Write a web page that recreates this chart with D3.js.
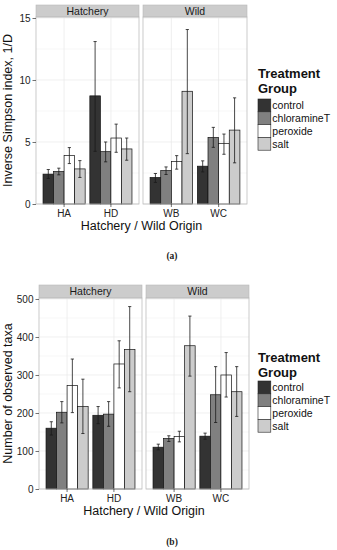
<!DOCTYPE html>
<html>
<head>
<meta charset="utf-8">
<script src="https://cdn.jsdelivr.net/npm/d3@7"></script>
<style>
  body { margin: 0; background: #fff; }
  svg { display: block; font-family: "Liberation Sans", Arial, sans-serif; }
</style>
</head>
<body>
<div id="chart"></div>
<script>
// facets and categories
const facets = ["Hatchery", "Wild"];
const facetOrigins = [["HA", "HD"], ["WB", "WC"]];
const treatments = ["control", "chloramineT", "peroxide", "salt"];

// (a) inverse Simpson index, per origin, per treatment
const simpsonMean = {
  HA: [2.41, 2.62, 3.90, 2.83],
  HD: [8.72, 4.22, 5.32, 4.44],
  WB: [2.14, 2.70, 3.42, 9.09],
  WC: [3.05, 5.37, 4.87, 5.96]
};
const simpsonLow = {
  HA: [2.06, 2.35, 3.26, 2.14],
  HD: [4.25, 3.40, 4.17, 3.53],
  WB: [1.74, 2.38, 2.81, 4.06],
  WC: [2.59, 4.57, 4.01, 3.32]
};
const simpsonHigh = {
  HA: [2.78, 2.89, 4.55, 3.50],
  HD: [13.1, 5.00, 6.44, 5.32],
  WB: [2.46, 2.99, 3.90, 14.07],
  WC: [3.48, 6.18, 5.64, 8.56]
};
const simpsonTicks = [0, 5, 10, 15];

// (b) number of observed taxa
const taxaMean = {
  HA: [160, 202, 272, 217],
  HD: [194, 197, 329, 367],
  WB: [110, 133, 138, 377],
  WC: [139, 248, 300, 256]
};
const taxaLow = {
  HA: [142, 174, 201, 146],
  HD: [172, 165, 266, 256],
  WB: [103, 125, 124, 297],
  WC: [131, 175, 242, 191]
};
const taxaHigh = {
  HA: [177, 230, 342, 289],
  HD: [217, 230, 390, 480],
  WB: [118, 140, 152, 455],
  WC: [147, 322, 359, 322]
};
const taxaTicks = [0, 100, 200, 300, 400, 500];

const fills = ["#333333", "#808080", "#ffffff", "#cccccc"];

const svg = d3.select("#chart").append("svg")
  .attr("width", 337)
  .attr("height", 550);

drawChart(svg, {
  mean: simpsonMean, low: simpsonLow, high: simpsonHigh,
  ticks: simpsonTicks, yMax: 15.08,
  yTitle: "Inverse Simpson index, 1/D",
  panels: [[36, 139], [143, 247]],
  top: 17, bottom: 204, stripTop: 5,
  legendX: 258, legendY: 78, keyY: 99,
  caption: "(a)", captionY: 259
});

drawChart(svg, {
  mean: taxaMean, low: taxaLow, high: taxaHigh,
  ticks: taxaTicks, yMax: 502.6,
  yTitle: "Number of observed taxa",
  panels: [[39, 142], [146, 249]],
  top: 298, bottom: 489, stripTop: 285,
  legendX: 258, legendY: 362, keyY: 381,
  caption: "(b)", captionY: 545
});

function drawChart(svg, c) {
  const g = svg.append("g");
  const y = d3.scaleLinear().domain([0, c.yMax]).range([c.bottom, c.top]);
  const minor = c.ticks.slice(1).map((t, i) => (t + c.ticks[i]) / 2);

  facets.forEach((facet, fi) => {
    const [x0, x1] = c.panels[fi];
    const x = d3.scalePoint().domain(facetOrigins[fi]).range([x0, x1]).padding(0.6);
    const step = x.step();
    const dodge = d3.scaleBand().domain(treatments)
      .range([-0.45 * step, 0.45 * step]);

    // strip
    g.append("rect")
      .attr("x", x0).attr("y", c.stripTop)
      .attr("width", x1 - x0).attr("height", c.top - c.stripTop)
      .attr("fill", "#cccccc").attr("stroke", "#b8b8b8").attr("stroke-width", 0.6);
    g.append("text")
      .attr("x", (x0 + x1) / 2).attr("y", (c.stripTop + c.top) / 2 + 3.8)
      .attr("text-anchor", "middle").attr("font-size", 10.5).attr("fill", "#1a1a1a")
      .text(facet);

    // grid
    g.append("g").selectAll("line.minor").data(minor).join("line")
      .attr("x1", x0).attr("x2", x1)
      .attr("y1", d => y(d)).attr("y2", d => y(d))
      .attr("stroke", "#f4f4f4").attr("stroke-width", 0.6);
    g.append("g").selectAll("line.major").data(c.ticks).join("line")
      .attr("x1", x0).attr("x2", x1)
      .attr("y1", d => y(d)).attr("y2", d => y(d))
      .attr("stroke", "#e8e8e8").attr("stroke-width", 0.7);
    g.append("g").selectAll("line.vgrid").data(facetOrigins[fi]).join("line")
      .attr("x1", d => x(d)).attr("x2", d => x(d))
      .attr("y1", c.top).attr("y2", c.bottom)
      .attr("stroke", "#e8e8e8").attr("stroke-width", 0.7);

    // bars + error bars
    facetOrigins[fi].forEach(o => {
      const rows = treatments.map((t, i) => ({
        t, i, m: c.mean[o][i], lo: c.low[o][i], hi: c.high[o][i]
      }));
      const grp = g.append("g").attr("transform", `translate(${x(o)},0)`);
      grp.selectAll("rect").data(rows).join("rect")
        .attr("x", d => dodge(d.t))
        .attr("y", d => y(d.m))
        .attr("width", dodge.bandwidth())
        .attr("height", d => y(0) - y(d.m))
        .attr("fill", d => fills[d.i])
        .attr("stroke", "#111").attr("stroke-width", 0.7);
      const eb = grp.selectAll("g.eb").data(rows).join("g")
        .attr("transform", d => `translate(${dodge(d.t) + dodge.bandwidth() / 2},0)`);
      eb.append("line")
        .attr("y1", d => y(d.lo)).attr("y2", d => y(d.hi))
        .attr("stroke", "#1a1a1a").attr("stroke-width", 0.8);
      [d => y(d.lo), d => y(d.hi)].forEach(fy => {
        eb.append("line")
          .attr("x1", -1.6).attr("x2", 1.6)
          .attr("y1", fy).attr("y2", fy)
          .attr("stroke", "#1a1a1a").attr("stroke-width", 0.8);
      });
    });

    // panel border
    g.append("rect")
      .attr("x", x0).attr("y", c.top)
      .attr("width", x1 - x0).attr("height", c.bottom - c.top)
      .attr("fill", "none").attr("stroke", "#bdbdbd").attr("stroke-width", 0.8);

    // x ticks
    const xa = g.append("g");
    facetOrigins[fi].forEach(o => {
      xa.append("line")
        .attr("x1", x(o)).attr("x2", x(o))
        .attr("y1", c.bottom).attr("y2", c.bottom + 3)
        .attr("stroke", "#333").attr("stroke-width", 0.7);
      xa.append("text")
        .attr("x", x(o)).attr("y", c.bottom + 12.5)
        .attr("text-anchor", "middle").attr("font-size", 10).attr("fill", "#222")
        .text(o);
    });
  });

  // y axis
  const left = c.panels[0][0];
  g.append("g")
    .attr("transform", `translate(${left},0)`)
    .call(d3.axisLeft(y).tickValues(c.ticks).tickSize(3.5).tickPadding(2))
    .call(a => a.select(".domain").remove())
    .call(a => a.selectAll("line").attr("stroke", "#333").attr("stroke-width", 0.7))
    .call(a => a.selectAll("text").attr("font-size", 10).attr("fill", "#222")
      .attr("font-family", "Liberation Sans, Arial, sans-serif"));

  // titles
  const midX = (c.panels[0][0] + c.panels[1][1]) / 2;
  g.append("text")
    .attr("x", midX).attr("y", c.bottom + 25.5)
    .attr("text-anchor", "middle").attr("font-size", 12.5).attr("fill", "#111")
    .text("Hatchery / Wild Origin");
  g.append("text")
    .attr("transform", `translate(12,${(c.top + c.bottom) / 2}) rotate(-90)`)
    .attr("text-anchor", "middle").attr("font-size", 12.5).attr("fill", "#111")
    .text(c.yTitle);

  // legend
  const lg = g.append("g");
  lg.append("text").attr("x", c.legendX).attr("y", c.legendY)
    .attr("font-size", 13).attr("font-weight", "bold").attr("fill", "#111")
    .text("Treatment");
  lg.append("text").attr("x", c.legendX).attr("y", c.legendY + 14.5)
    .attr("font-size", 13).attr("font-weight", "bold").attr("fill", "#111")
    .text("Group");
  const key = 12.8;
  treatments.forEach((t, i) => {
    lg.append("rect")
      .attr("x", c.legendX).attr("y", c.keyY + i * key)
      .attr("width", key).attr("height", key)
      .attr("fill", fills[i]).attr("stroke", "#222").attr("stroke-width", 0.6);
    lg.append("text")
      .attr("x", c.legendX + key + 1.5).attr("y", c.keyY + i * key + key / 2 + 3.7)
      .attr("font-size", 10.5).attr("fill", "#111")
      .text(t);
  });

  // caption
  g.append("text")
    .attr("x", 172).attr("y", c.captionY)
    .attr("text-anchor", "middle").attr("font-size", 9.5).attr("font-weight", "bold")
    .attr("font-family", "Liberation Serif, serif").attr("fill", "#222")
    .text(c.caption);
}
</script>
</body>
</html>
